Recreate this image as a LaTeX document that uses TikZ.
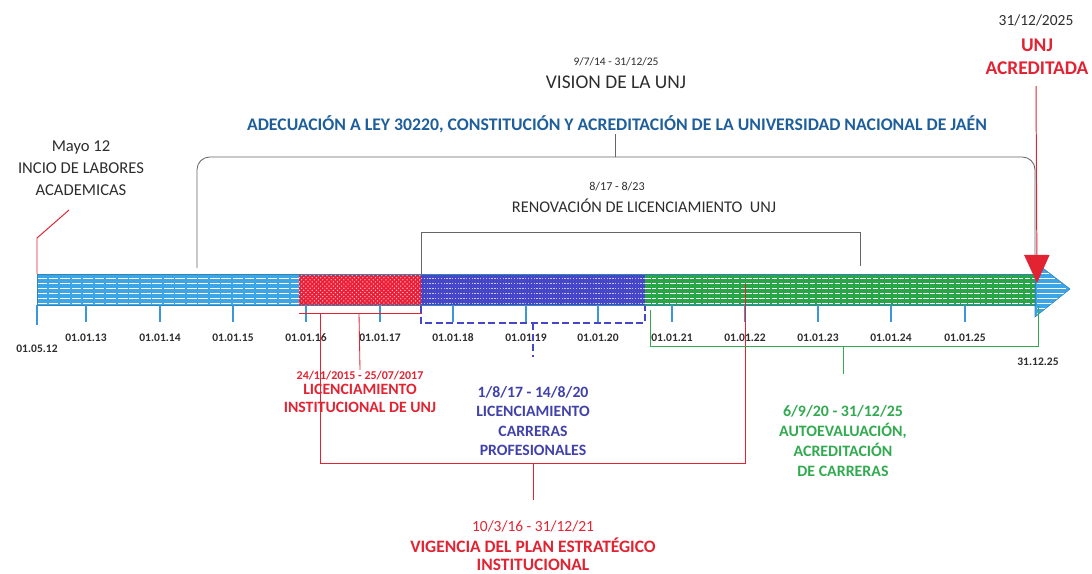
\documentclass[tikz,border=0pt]{standalone}
\usepackage{fontspec}
\setmainfont{Carlito}
\usetikzlibrary{positioning,arrows.meta,patterns}
\definecolor{barblue}{RGB}{60,165,230}
\definecolor{barred}{RGB}{235,30,55}
\definecolor{barpurple}{RGB}{70,70,200}
\definecolor{bargreen}{RGB}{40,165,70}
\definecolor{titleblue}{RGB}{30,95,155}
\definecolor{labred}{RGB}{225,35,50}
\definecolor{labpurple}{RGB}{65,65,170}
\definecolor{labgreen}{RGB}{50,170,80}
\definecolor{tickblue}{RGB}{60,150,220}
\definecolor{txtgray}{RGB}{45,45,45}
\tikzstyle{lab} = [align=center, inner sep=1pt, text=txtgray]
\tikzstyle{ticklab} = [inner sep=1pt, text=txtgray, font=\fontsize{8.2}{9}\selectfont\bfseries]
\tikzstyle{bracket} = [line width=0.6pt]
\tikzstyle{hatch} = [white, line width=0.7pt, dash pattern=on 7pt off 1.2pt]

\begin{document}
\begin{tikzpicture}[x=0.025cm, y=-0.025cm]
   \useasboundingbox (0,0) rectangle (1092,573);
   % Bar segments
   \fill[barblue] (37,274) rectangle (299,305);
   \fill[barred] (299,274) rectangle (421,305);
   \fill[pattern=crosshatch dots, pattern color=white!75!barred] (299,274) rectangle (421,305);
   \fill[barpurple] (421,274) rectangle (645,305);
   \fill[bargreen] (645,274) rectangle (1035,305);
   \fill[barblue] (1035,262) -- (1070,289) -- (1035,317) -- cycle;
   \foreach \yy in {278,283,...,303} {
      \draw[hatch] (37,\yy) -- (299,\yy);
      \draw[hatch, dash pattern=on 1pt off 1pt, white!70!barpurple] (421,\yy) -- (645,\yy);
      \draw[hatch, dash pattern=on 4pt off 1pt on 3pt off 1pt] (645,\yy) -- (1035,\yy);
   }
   \foreach \yy in {268,273,...,313} {
      \draw[white, line width=0.6pt] (1037,\yy) -- ({1037+31*(1-abs(\yy-289.5)/27.5)},\yy);
   }
   \draw[barblue!80!black, line width=0.4pt] (37,274) rectangle (1035,305);
   \draw[barblue!80!black, line width=0.4pt] (1035,262) -- (1070,289) -- (1035,317) -- cycle;

   % Ticks and dates
   \coordinate (t0) at (37,305);
   \draw[tickblue, line width=0.8pt] (t0) -- ++(0,20);
   \node[ticklab] (d0) at (37,349) {01.05.12};
   \foreach \i/\x in {13/86, 14/160, 15/233, 16/306, 17/380, 18/453, 19/526, 20/598, 21/672, 22/745, 23/818, 24/891, 25/965} {
      \coordinate (t\i) at (\x,305);
      \draw[tickblue, line width=0.8pt] (t\i) -- ++(0,17);
      \node[ticklab] (d\i) at (\x,338) {01.01.\i};
   }
   \node[ticklab] (dend) at (1038,362) {31.12.25};

   % Top labels
   \node[lab, font=\fontsize{8.2}{9}\selectfont] (visd) at (616,62) {9/7/14 - 31/12/25};
   \node[lab, font=\fontsize{13.8}{15}\selectfont] (vis) at (616,82) {VISION DE LA UNJ};
   \node[lab, text=titleblue, font=\fontsize{12.6}{14}\selectfont\bfseries] (adec) at (617,124) {ADECUACIÓN A LEY 30220, CONSTITUCIÓN Y ACREDITACIÓN DE LA UNIVERSIDAD NACIONAL DE JAÉN};
   \node[lab, font=\fontsize{8.6}{9}\selectfont] (rend) at (617,187) {8/17 - 8/23};
   \node[lab, font=\fontsize{11.6}{13}\selectfont] (ren) at (644,206) {RENOVACIÓN DE LICENCIAMIENTO\ \ UNJ};
   \node[lab, font=\fontsize{11.8}{15.5}\selectfont] (ini) at (81,168) {Mayo 12\\INCIO DE LABORES\\ACADEMICAS};
   \node[lab, font=\fontsize{11}{12}\selectfont] (acrd) at (1036,20) {31/12/2025};
   \node[lab, text=labred, font=\fontsize{13.8}{16}\selectfont\bfseries] (acr) at (1037,57) {UNJ\\ACREDITADA};

   % Top brackets
   \coordinate (bigl) at (197,268);
   \coordinate (bigr) at (1035,265);
   \draw[bracket, gray!80!black, rounded corners=9pt] (bigl) -- (197,157) -- (1035,157) -- (bigr);
   \draw[bracket, gray!80!black] (adec.south -| 615,0) -- (615,157);
   \coordinate (renl) at (421,274);
   \coordinate (renr) at (860,266);
   \draw[bracket, gray!80!black] (renl) -- (421,232) -- (860,232) -- (renr);
   \draw[labred, line width=0.7pt] (69,210) -- (37,238) -- (37,274);
   \coordinate (acrtip) at (1037,283);
   \draw[labred, line width=0.7pt, -{Triangle[length=20, width=18]}] (1036,86) -- (acrtip);

   % Bottom labels
   \node[lab, text=labred, font=\fontsize{8.5}{9}\selectfont\bfseries] (licd) at (360,376) {24/11/2015 - 25/07/2017};
   \node[lab, text=labred, font=\fontsize{11.2}{13}\selectfont\bfseries, below=0pt of licd] (lic) {LICENCIAMIENTO\\INSTITUCIONAL DE UNJ};
   \node[lab, text=labpurple, font=\fontsize{11.2}{13.6}\selectfont\bfseries] (carr) at (533,421) {1/8/17 - 14/8/20\\LICENCIAMIENTO\\CARRERAS\\PROFESIONALES};
   \node[lab, text=labgreen, font=\fontsize{11.3}{14.4}\selectfont\bfseries] (auto) at (843,441) {6/9/20 - 31/12/25\\AUTOEVALUACIÓN,\\ACREDITACIÓN\\DE CARRERAS};
   \node[lab, text=labred, font=\fontsize{11}{12}\selectfont] (pland) at (533,526) {10/3/16 - 31/12/21};
   \node[lab, text=labred, font=\fontsize{12.4}{12.6}\selectfont\bfseries] (plan) at (533,554) {VIGENCIA DEL PLAN ESTRATÉGICO\\INSTITUCIONAL};

   % Bottom brackets
   \draw[labred, bracket] (299,313) -- (421,313) -- (421,306);
   \draw[labred, bracket] (359,313) -- (licd.north);
   \draw[labred, bracket] (320,313) -- (320,463) -- (745,463) -- (745,284);
   \draw[labred, bracket] (533,463) -- (533,500);
   \draw[barpurple, line width=0.8pt, dash pattern=on 5pt off 2.5pt] (421,306) -- (421,323) -- (645,323) -- (645,306);
   \draw[barpurple, line width=0.8pt, dash pattern=on 5pt off 2.5pt] (533,323) -- (533,357);
   \draw[labgreen, bracket] (650,310) -- (650,346) -- (1038,346) -- (1038,306);
   \draw[labgreen, bracket] (843,346) -- (843,374);
\end{tikzpicture}
\end{document}
